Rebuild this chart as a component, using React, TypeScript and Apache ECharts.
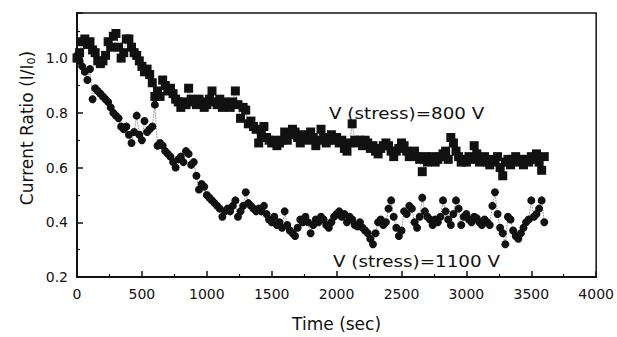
import React, { useEffect, useRef } from "react";
import * as echarts from "echarts";

const TIME_STEP = 20; // seconds between samples
const xTicks = [0, 500, 1000, 1500, 2000, 2500, 3000, 3500, 4000];
const yTicks = [0.2, 0.4, 0.6, 0.8, 1.0];

const stress800 = [
  1.0, 1.02, 1.06, 1.07, 1.05, 1.06, 1.03, 1.02, 0.99, 0.98,
  0.99, 1.01, 1.06, 1.04, 1.08, 1.09, 1.04, 1.0, 1.02, 1.07,
  1.07, 1.04, 1.02, 1.01, 0.99, 0.97, 0.95, 0.96, 0.94, 0.91,
  0.86, 0.88, 0.86, 0.92, 0.9, 0.88, 0.89, 0.87, 0.85, 0.84,
  0.82, 0.84, 0.83, 0.89, 0.85, 0.84, 0.83, 0.85, 0.84, 0.82,
  0.83, 0.85, 0.88, 0.84, 0.83, 0.85, 0.82, 0.84, 0.83, 0.82,
  0.84, 0.88, 0.83, 0.78, 0.82, 0.81, 0.76, 0.77, 0.75, 0.74,
  0.69, 0.72, 0.75, 0.71, 0.7, 0.69, 0.7, 0.68, 0.69, 0.7,
  0.73, 0.7, 0.72, 0.74, 0.73, 0.71, 0.69, 0.72, 0.71, 0.7,
  0.73, 0.71, 0.68, 0.7, 0.74, 0.71, 0.69, 0.7, 0.72, 0.7,
  0.71, 0.69, 0.7, 0.67, 0.66, 0.69, 0.76, 0.7, 0.69, 0.7,
  0.68, 0.7, 0.69, 0.67, 0.68, 0.66, 0.65, 0.67, 0.68, 0.69,
  0.68, 0.66, 0.64, 0.66, 0.67, 0.69, 0.68, 0.66, 0.64, 0.65,
  0.66, 0.64, 0.63, 0.585, 0.64, 0.62, 0.63, 0.64, 0.62, 0.63,
  0.64, 0.65, 0.66, 0.63, 0.71, 0.69, 0.66, 0.64, 0.62, 0.63,
  0.62, 0.64, 0.63, 0.68, 0.65, 0.62, 0.63, 0.64, 0.62, 0.61,
  0.63, 0.62, 0.64, 0.6, 0.57, 0.62, 0.63, 0.61, 0.63, 0.64,
  0.62, 0.63, 0.61, 0.63, 0.62, 0.64, 0.63, 0.65, 0.62, 0.59,
  0.64,
];

const stress1100 = [
  1.01, 0.99, 0.97, 0.95, 0.92, 0.96, 0.85, 0.89, 0.88, 0.87,
  0.86, 0.85, 0.84, 0.82, 0.8, 0.79, 0.78, 0.75, 0.74, 0.75,
  0.72, 0.69, 0.73, 0.79, 0.72, 0.7, 0.77, 0.73, 0.74, 0.75,
  0.83, 0.68, 0.69, 0.68, 0.66, 0.65, 0.64, 0.62, 0.6, 0.63,
  0.64, 0.62, 0.66, 0.65, 0.61, 0.62, 0.57, 0.52, 0.54, 0.53,
  0.5, 0.49, 0.48, 0.47, 0.46, 0.45, 0.42, 0.44, 0.45, 0.44,
  0.46, 0.48, 0.42, 0.44, 0.46, 0.51, 0.47, 0.46, 0.45, 0.44,
  0.45, 0.44, 0.46, 0.43, 0.41, 0.4, 0.42, 0.39, 0.4, 0.38,
  0.44, 0.39, 0.37, 0.36, 0.35, 0.38, 0.41, 0.4, 0.42, 0.4,
  0.36, 0.39, 0.41, 0.4, 0.42, 0.41, 0.39, 0.38, 0.4, 0.42,
  0.43, 0.44, 0.42, 0.43, 0.4, 0.42, 0.41, 0.39, 0.385, 0.4,
  0.38, 0.37, 0.36, 0.34, 0.32, 0.36, 0.4, 0.41, 0.39, 0.4,
  0.45, 0.48, 0.42, 0.38, 0.35, 0.37, 0.44, 0.43, 0.46, 0.45,
  0.4, 0.38, 0.42, 0.49, 0.44, 0.42, 0.41, 0.39, 0.41, 0.4,
  0.42, 0.48, 0.44, 0.41, 0.39, 0.43, 0.48, 0.45, 0.39, 0.42,
  0.43, 0.41, 0.4, 0.42, 0.415, 0.4, 0.39, 0.41, 0.4, 0.39,
  0.46, 0.51, 0.43, 0.38, 0.36, 0.32, 0.42, 0.41, 0.37, 0.35,
  0.34, 0.36, 0.38, 0.4, 0.41, 0.48, 0.42, 0.43, 0.45, 0.48,
  0.4,
];

const label800 = "V (stress)=800 V";
const label1100 = "V (stress)=1100 V";
const yNameMain = "Current Ratio (I/I";
const yNameSub = "0";
const yNameEnd = ")";
const xName = "Time (sec)";

const FONT = "DejaVu Sans";

export default function App() {
  const ref = useRef<HTMLDivElement>(null);
  useEffect(() => {
    if (!ref.current) return;
    const chart = echarts.init(ref.current, null, { renderer: "svg" });
    const toPairs = (vals: number[]) => vals.map((v, i) => [i * TIME_STEP, v]);
    const lineStyle = { color: "#555", width: 0.8, type: "dotted" as const };
    chart.setOption({
      animation: false,
      backgroundColor: "#fff",
      grid: {
        left: 77,
        right: 20,
        top: 13,
        bottom: 58,
        show: true,
        borderColor: "#111",
        borderWidth: 1.5,
        backgroundColor: "transparent",
      },
      xAxis: {
        type: "value",
        min: xTicks[0],
        max: xTicks[xTicks.length - 1],
        interval: 500,
        name: xName,
        nameLocation: "middle",
        nameGap: 38,
        nameTextStyle: { fontFamily: FONT, fontSize: 17, color: "#111" },
        axisLine: { show: true, onZero: false, lineStyle: { color: "#111", width: 2 } },
        axisTick: { show: true, inside: true, length: 6, lineStyle: { color: "#111", width: 1.5 } },
        minorTick: { show: true, splitNumber: 2, length: 3, lineStyle: { color: "#111", width: 1.2 } },
        splitLine: { show: false },
        axisLabel: {
          fontFamily: FONT,
          fontSize: 14,
          color: "#111",
          margin: 10,
          formatter: (v: number) => String(v),
        },
      },
      yAxis: {
        type: "value",
        min: yTicks[0],
        max: 1.165,
        interval: 0.2,
        axisLine: { show: true, onZero: false, lineStyle: { color: "#111", width: 2 } },
        axisTick: { show: true, inside: true, length: 6, lineStyle: { color: "#111", width: 1.5 } },
        minorTick: { show: true, splitNumber: 2, length: 3, lineStyle: { color: "#111", width: 1.2 } },
        splitLine: { show: false },
        axisLabel: {
          fontFamily: FONT,
          fontSize: 14,
          color: "#111",
          margin: 9,
          showMaxLabel: false,
          formatter: (v: number) => (yTicks.some((t) => Math.abs(t - v) < 1e-6) ? v.toFixed(1) : ""),
        },
      },
      series: [
        {
          name: label800,
          type: "line",
          data: toPairs(stress800),
          symbol: "rect",
          symbolSize: 9,
          showAllSymbol: true,
          itemStyle: { color: "#111" },
          lineStyle,
        },
        {
          name: label1100,
          type: "line",
          data: toPairs(stress1100),
          symbol: "circle",
          symbolSize: 8,
          showAllSymbol: true,
          itemStyle: { color: "#111" },
          lineStyle,
        },
      ],
      graphic: [
        {
          type: "text",
          x: 27,
          y: 128,
          rotation: Math.PI / 2,
          style: {
            text: `{m|${yNameMain}}{s|${yNameSub}}{m|${yNameEnd}}`,
            fontFamily: FONT,
            fontSize: 17,
            fill: "#111",
            align: "center",
            verticalAlign: "middle",
            rich: {
              m: { fontFamily: FONT, fontSize: 17, fill: "#111", verticalAlign: "middle" },
              s: { fontFamily: FONT, fontSize: 11, fill: "#111", verticalAlign: "bottom", padding: [8, 0, 0, 0] },
            },
          },
        },
        {
          type: "text",
          x: 329,
          y: 114,
          scaleX: 1.22,
          style: {
            text: label800,
            fontFamily: FONT,
            fontSize: 15,
            fill: "#111",
            align: "left",
            verticalAlign: "middle",
          },
        },
        {
          type: "text",
          x: 333,
          y: 262,
          scaleX: 1.22,
          style: {
            text: label1100,
            fontFamily: FONT,
            fontSize: 15,
            fill: "#111",
            align: "left",
            verticalAlign: "middle",
          },
        },
      ],
    });
    return () => chart.dispose();
  }, []);
  return (
    <div
      ref={ref}
      style={{ position: "fixed", left: 0, top: 0, width: 617, height: 337 }}
    />
  );
}
